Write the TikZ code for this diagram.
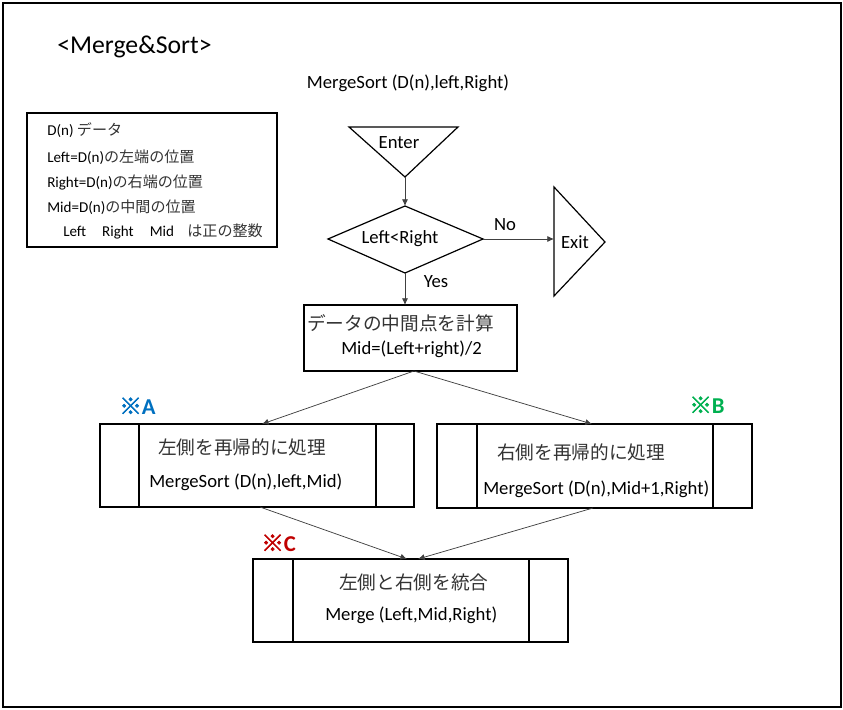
\documentclass[tikz,border=0pt]{standalone}
\usepackage{fontspec}
\setmainfont{Carlito}
\newfontfamily\jp{Noto Sans CJK JP}
\newfontfamily\jpb[FakeBold=2.5]{Noto Sans CJK JP}
\usetikzlibrary{arrows.meta,fit}
\begin{document}
\begin{tikzpicture}[x=0.75pt,y=-0.75pt,
  outline/.style={draw=black,line width=0.9pt},
  conn/.style={draw=black!75,line width=0.55pt,-{Latex[length=5pt,width=4.5pt]}},
  boxnode/.style={outline,inner sep=0pt},
  txt/.style={inner sep=0pt,font=\fontsize{14}{16}\selectfont},
  wtxt/.style={txt,anchor=west},
  jtxt/.style={inner sep=0pt,anchor=west,font=\fontsize{14}{16}\selectfont\jp,text=black!80},
  ltxt/.style={inner sep=0pt,anchor=west,font=\fontsize{11.3}{13}\selectfont},
  notemark/.style={inner sep=0pt,anchor=west,font=\fontsize{17}{19}\selectfont\bfseries}
]
\useasboundingbox (0,0) rectangle (843,710);
\draw[line width=1.5pt] (3,3) rectangle (841,707);

% title and signature
\node[inner sep=0pt,anchor=west,font=\fontsize{19.3}{22}\selectfont] (title) at (57,47) {<Merge\&Sort>};
\node[txt] (sig) at (408,83) {MergeSort (D(n),left,Right)};

% legend
\node[boxnode,fit={(27,113)(277,247)}] (legend) {};
\node[ltxt] (lg1) at (47,130) {D(n) {\jp\color{black!80}データ}};
\node[ltxt] (lg2) at (47,157) {Left=D(n){\jp\color{black!80}の左端の位置}};
\node[ltxt] (lg3) at (47,182) {Right=D(n){\jp\color{black!80}の右端の位置}};
\node[ltxt] (lg4) at (47,207) {Mid=D(n){\jp\color{black!80}の中間の位置}};
\node[ltxt] (lg5) at (63,231) {Left\hspace{12pt}Right\hspace{12pt}Mid\hspace{10pt}{\jp\color{black!80}は正の整数}};

% Enter triangle
\coordinate (enTL) at (349,127);
\coordinate (enTR) at (458,127);
\coordinate (enApex) at (405,177);
\draw[outline] (enTL) -- (enTR) -- (enApex) -- cycle;
\node[txt] (enter) at (399,143) {Enter};

% decision diamond
\coordinate (dL) at (328,239);
\coordinate (dT) at (405,206);
\coordinate (dR) at (483,239);
\coordinate (dB) at (405,273);
\draw[outline] (dL) -- (dT) -- (dR) -- (dB) -- cycle;
\node[txt] (cond) at (400,239) {Left<Right};

% Exit triangle
\coordinate (exT) at (554,187);
\coordinate (exApex) at (605,242);
\coordinate (exB) at (554,296);
\coordinate (exIn) at (554,239);
\draw[outline] (exT) -- (exApex) -- (exB) -- cycle;
\node[txt] (exit) at (575,242) {Exit};

\node[txt] (no) at (505,225) {No};
\node[txt] (yes) at (436,282) {Yes};

% mid box
\node[boxnode,fit={(304,305)(517,371)}] (midbox) {};
\node[jtxt] (mid1) at (307,323) {データの中間点を計算};
\node[wtxt] (mid2) at (341,349) {Mid=(Left+right)/2};
\coordinate (midTop) at (405,305);
\coordinate (midBot) at (414,371);

% box A
\node[boxnode,fit={(100,424)(414,507)}] (boxA) {};
\draw[outline] (139,424) -- (139,507) (376,424) -- (376,507);
\node[jtxt] (a1) at (158,447) {左側を再帰的に処理};
\node[wtxt] (a2) at (149,482) {MergeSort (D(n),left,Mid)};
\coordinate (aTop) at (262,424);
\coordinate (aBot) at (260,507);
\node[notemark,text={rgb,255:red,0;green,112;blue,192}] (noteA) at (119,406) {{\jpb ※}A};

% box B
\node[boxnode,fit={(437,424)(752,508)}] (boxB) {};
\draw[outline] (477,424) -- (477,508) (713,424) -- (713,508);
\node[jtxt] (b1) at (497,452) {右側を再帰的に処理};
\node[wtxt] (b2) at (483,489) {MergeSort (D(n),Mid+1,Right)};
\coordinate (bTop) at (592,424);
\coordinate (bBot) at (593,508);
\node[notemark,text={rgb,255:red,0;green,176;blue,80}] (noteB) at (689,405) {{\jpb ※}B};

% box C
\node[boxnode,fit={(253,559)(568,642)}] (boxC) {};
\draw[outline] (293,559) -- (293,642) (529,559) -- (529,642);
\node[jtxt] (c1) at (339,582) {左側と右側を統合};
\node[wtxt] (c2) at (325,615) {Merge (Left,Mid,Right)};
\coordinate (cTopL) at (407,559);
\coordinate (cTopR) at (418,559);
\node[notemark,text={rgb,255:red,192;green,0;blue,0}] (noteC) at (261,543) {{\jpb ※}C};

% connectors
\draw[conn] (enApex) -- (dT);
\draw[conn] (dR) -- (exIn);
\draw[conn] (dB) -- (midTop);
\draw[conn] (midBot) -- (aTop);
\draw[conn] (midBot) -- (bTop);
\draw[conn] (aBot) -- (cTopL);
\draw[conn] (bBot) -- (cTopR);
\end{tikzpicture}
\end{document}
